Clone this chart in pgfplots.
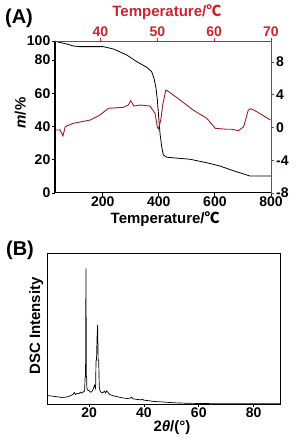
\documentclass[border=0pt]{standalone}
\usepackage{fontspec}
\setmainfont{Liberation Sans}
\newfontfamily\cjk{Noto Sans CJK SC}
\usepackage{pgfplots}
\pgfplotsset{compat=1.18}
\definecolor{axred}{RGB}{205,35,45}
\definecolor{curvered}{RGB}{160,30,30}
\newcommand{\tickfont}{\fontsize{14}{14}\selectfont\bfseries}
\newcommand{\labfont}{\fontsize{15}{15}\selectfont\bfseries}
\begin{document}
\begin{tikzpicture}[x=1pt,y=1pt]
\path[use as bounding box] (0,0) rectangle (296,440);
% ---------- (A) TGA ----------
\begin{axis}[at={(55pt,247pt)}, anchor=south west, scale only axis,
  width=216pt, height=152pt,
  xmin=30, xmax=800, ymin=0, ymax=91.4,
  axis x line=bottom, axis y line=left,
  axis line style={-, line width=1pt, black},
  xtick={200,400,600,800}, ytick={0,20,40,60,80,91.4},
  yticklabels={0,20,40,60,80,100},
  tick align=outside, major tick length=3pt, tick style={line width=0.8pt, black},
  /pgf/number format/assume math mode=true,
  ticklabel style={font=\tickfont},
  xticklabel style={inner sep=1pt},
  yticklabel style={inner sep=1.5pt},
  xlabel={Temperature/{\cjk ℃}}, ylabel={\textit{m}/\%},
  label style={font=\labfont},
  xlabel style={at={(axis description cs:0.51,-0.175)}, anchor=center},
  ylabel style={at={(axis description cs:-0.16,0.526)}, anchor=center, rotate=0},
  clip=false]
\addplot[black, line width=0.8pt] coordinates {
(30,91.4) (35.9,91.0) (71.6,89.6) (95.4,88.4) (119.1,88.0) (202.3,88.0)
(238,86.6) (285.5,83.0) (321.2,79.0) (356.8,75.6) (374.6,73.0) (382.9,69.0)
(390.1,63.0) (394.8,55.9) (399.6,45.9) (404.3,35.9) (410.3,27.9) (416.2,22.9)
(428.1,21.5) (511.3,20.3) (570.7,18.2) (618.2,16.2) (665.8,13.4) (725.2,10.2)
(800,10.2)};
\end{axis}
\begin{axis}[at={(55pt,247pt)}, anchor=south west, scale only axis,
  width=216pt, height=152pt,
  xmin=32, xmax=70, ymin=-8, ymax=10.56,
  axis x line=top, axis y line=right,
  axis line style={-, line width=1pt, axred},
  xtick={40,50,60,70}, ytick={-8,-4,0,4,8},
  tick align=outside, major tick length=3pt, tick style={line width=0.8pt, axred},
  /pgf/number format/assume math mode=true,
  ticklabel style={font=\tickfont},
  xticklabel style={inner sep=1pt, text=axred},
  yticklabel style={inner sep=2pt, text=black},
  xlabel={Temperature/{\cjk ℃}},
  label style={font=\labfont},
  xlabel style={at={(axis description cs:0.518,1.19)}, anchor=center, text=axred},
  clip=false]
\addplot[curvered, line width=0.9pt] coordinates {
(32.2,-0.31) (32.9,-0.30) (33.4,-1.04) (33.8,0.10) (35.2,0.51) (38.2,0.91)
(39.9,1.52) (41.4,2.34) (44.0,2.46) (44.9,2.74) (45.3,3.27) (45.9,2.62)
(47.0,2.74) (48.7,2.62) (49.6,1.73) (50.0,0.10) (50.2,-0.19) (50.6,0.91)
(51.0,2.95) (51.5,4.58) (52.0,4.37) (54.0,3.36) (56.3,2.13) (58.7,1.12)
(60.2,-0.10) (62.2,-0.22) (63.1,-0.22) (64.3,-0.39) (65.2,0.10) (66.0,2.13)
(66.5,2.29) (67.5,1.93) (69.9,0.91)};
\end{axis}
\node[font=\fontsize{20}{20}\selectfont\bfseries] at (19,422) {(A)};
% ---------- (B) XRD ----------
\begin{axis}[at={(48pt,35pt)}, anchor=south west, scale only axis,
  width=233pt, height=151pt,
  xmin=5, xmax=90, ymin=0, ymax=100,
  axis line style={line width=1pt, black},
  xtick={20,40,60,80}, ytick=\empty,
  tick align=outside, major tick length=2pt, tick style={line width=0.8pt, black},
  xtick pos=bottom,
  /pgf/number format/assume math mode=true,
  ticklabel style={font=\tickfont},
  xticklabel style={inner sep=1pt},
  xlabel={2\textit{θ}/(°)}, ylabel={DSC Intensity},
  label style={font=\labfont},
  xlabel style={at={(axis description cs:0.532,-0.15)}, anchor=center},
  ylabel style={at={(axis description cs:-0.05,0.523)}, anchor=center},
  clip=false]
\addplot[black, line width=0.7pt] coordinates {
(5,6.2) (6,6.0) (7,5.8) (8,5.5) (9,5.3) (10,5.0) (11,5.1) (12,5.4) (13,6.0)
(14,6.8) (14.6,8.3) (15,7.0) (15.6,7.6) (16.2,7.4) (16.8,8.4) (17.3,7.8)
(17.8,8.6) (18.2,9.0) (18.4,10) (18.5,18) (18.7,19) (18.85,90.5) (19.0,19)
(19.1,18) (19.2,11) (19.5,9.8) (20,9.5) (20.5,8.5) (21,8.8) (21.5,10.5)
(22,13.2) (22.3,11) (22.4,13) (22.5,29) (22.7,30) (22.9,45) (23.1,53)
(23.3,30) (23.5,29) (23.7,12) (24.0,9.5) (24.3,8.5) (25,8.0) (25.6,9.2)
(26.0,8.0) (26.4,9.4) (26.9,8.2) (27.5,7.0) (28.1,6.6) (29,6.0) (30,5.6)
(31,5.2) (32,4.8) (33,4.5) (34,4.3) (35,4.6) (35.5,5.2) (36,4.1) (37,3.8)
(38,3.6) (39,3.4) (39.5,3.9) (40,3.2) (42,2.8) (43.3,2.4) (45,2.2) (47,2.0)
(49,1.7) (52,1.4) (55,1.2) (60,1.0) (65,0.9) (70,0.9) (75,0.9) (80,0.9)
(85,0.9) (90,0.9)};
\end{axis}
\node[font=\fontsize{20}{20}\selectfont\bfseries] at (20,190) {(B)};
\end{tikzpicture}
\end{document}
